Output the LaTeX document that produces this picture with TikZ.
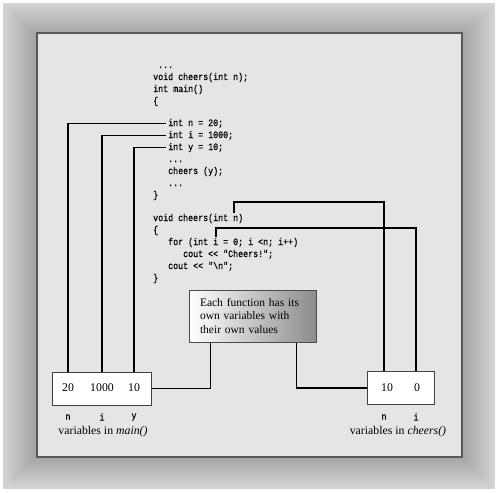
\documentclass[tikz,border=0pt]{standalone}
\usepackage{fontspec}
\setmainfont{Liberation Serif}
\newfontfamily\codefont[FakeStretch=0.85, FakeBold=0.5]{Liberation Mono}
\begin{document}
\begin{tikzpicture}[x = 1pt, y = -1pt,
    code/.style = {font = \codefont\fontsize{9.8}{12}\selectfont, inner sep = 0pt, anchor = base west},
    val/.style = {font = \fontsize{11.8}{13}\selectfont, inner sep = 0pt},
    varbox/.style = {draw = black!75, fill = white, line width = 1pt, minimum height = 33pt, inner sep = 0pt},
    link/.style = {line width = 1.2pt}]
  \useasboundingbox (0,0) rectangle (500,492);
  \fill [white] (0,0) rectangle (500,492);
  \foreach \k [evaluate = \k as \c using 17+1.2*\k] in {0,...,15}
    \fill [black!\c] (3+2*\k,3+2*\k) rectangle (495-2*\k,489-2*\k);
  \draw [black!65, fill = black!10, line width = 1.5pt] (37,33) rectangle (462,457);
  \node [code] (dotsA)  at (158,68)  {...};
  \node [code] (proto)  at (153,80)  {void cheers(int n);};
  \node [code] (mainhd) at (153,92)  {int main()};
  \node [code] (openA)  at (153,104) {\{};
  \node [code] (lnN)    at (168,126) {int n = 20;};
  \node [code] (lnI)    at (168,138) {int i = 1000;};
  \node [code] (lnY)    at (168,150) {int y = 10;};
  \node [code] (dotsB)  at (168,162) {...};
  \node [code] (call)   at (168,174) {cheers (y);};
  \node [code] (dotsC)  at (168,186) {...};
  \node [code] (closeA) at (153,198) {\}};
  \node [code] (sig)    at (153,221) {void cheers(int n)};
  \node [code] (openB)  at (153,233) {\{};
  \node [code] (loop)   at (168,245) {for (int i = 0; i <n; i++)};
  \node [code] (coutA)  at (183,257) {cout << "Cheers!";};
  \node [code] (coutB)  at (168,269) {cout << "\textbackslash n";};
  \node [code] (closeB) at (153,281) {\}};
  \coordinate (argN) at (234,213);
  \coordinate (argI) at (216,237);
  \node [draw = black!70, line width = 1pt, left color = white, right color = black!45,
    minimum width = 127pt, minimum height = 52pt, inner xsep = 11pt, text width = 105pt,
    align = left, font = \fontsize{11.5}{13.5}\selectfont] (note) at (252.5,316)
    {Each function has its\\own variables with\\their own values};
  \node [varbox, minimum width = 99pt] (mainbox) at (101.5,388.5) {};
  \node [val] (vN) at (68,388)  {20};
  \node [val] (vI) at (102,388) {1000};
  \node [val] (vY) at (134,388) {10};
  \node [code, anchor = center] (mN) at (68,417)  {n};
  \node [code, anchor = center] (mI) at (102,417) {i};
  \node [code, anchor = center] (mY) at (134,417) {y};
  \node [val] (mainlbl) at (103,432) {variables in \textit{main()}};
  \node [varbox, minimum width = 67pt] (cheersbox) at (400.5,388) {};
  \node [val] (cN) at (387,388) {10};
  \node [val] (cI) at (417,388) {0};
  \node [code, anchor = center] (kN) at (384,417) {n};
  \node [code, anchor = center] (kI) at (416,417) {i};
  \node [val] (cheerslbl) at (398,432) {variables in \textit{cheers()}};
  \draw [link, shorten > = 2pt] (mainbox.north -| mN) |- (lnN.mid west);
  \draw [link, shorten > = 2pt] (mainbox.north -| mI) |- (lnI.mid west);
  \draw [link, shorten > = 2pt] (mainbox.north -| mY) |- (lnY.mid west);
  \draw [link] (mainbox.east) -| ([xshift = 22pt]note.south west);
  \draw [link] ([xshift = -20pt]note.south east) |- (cheersbox.west);
  \draw [link] (cheersbox.north -| kN) |- ([yshift = 11pt]argN) -- (argN);
  \draw [link] (cheersbox.north -| kI) |- ([yshift = 9pt]argI) -- (argI);
\end{tikzpicture}
\end{document}
